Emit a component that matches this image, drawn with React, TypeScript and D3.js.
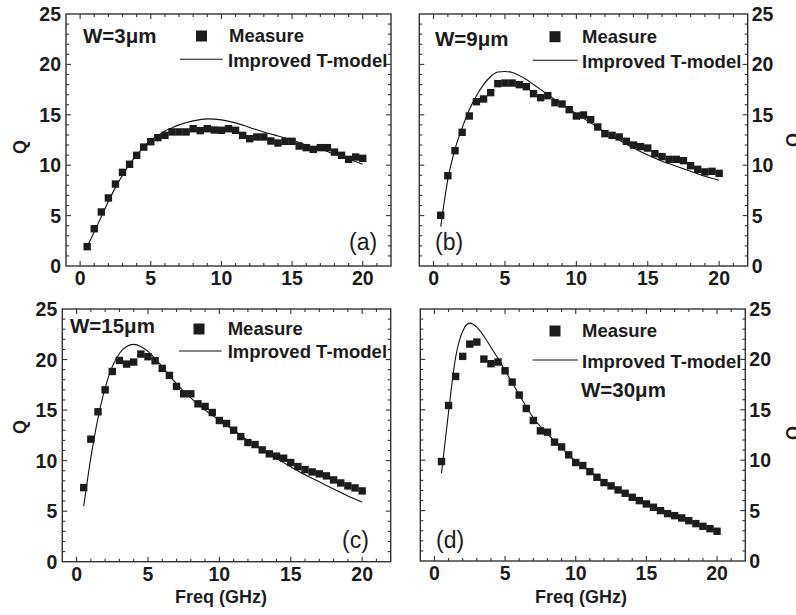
import React from "react";
import * as d3 from "d3";

// ---------- DATA ----------
const freq = [0.5, 1, 1.5, 2, 2.5, 3, 3.5, 4, 4.5, 5, 5.5, 6, 6.5, 7, 7.5, 8, 8.5, 9, 9.5, 10,
  10.5, 11, 11.5, 12, 12.5, 13, 13.5, 14, 14.5, 15, 15.5, 16, 16.5, 17, 17.5, 18, 18.5, 19, 19.5, 20];

const measureA = [1.92, 3.7, 5.36, 6.75, 8.13, 9.29, 10.09, 10.98, 11.8, 12.33, 12.73, 12.96, 13.3, 13.3, 13.3, 13.62, 13.43, 13.62, 13.49, 13.46,
  13.62, 13.46, 12.96, 12.63, 12.8, 12.8, 12.4, 12.2, 12.37, 12.37, 11.9, 11.74, 11.57, 11.74, 11.74, 11.3, 10.98, 10.58, 10.81, 10.68];
const measureB = [5.03, 8.96, 11.44, 13.26, 14.88, 16.3, 16.57, 17.2, 18.09, 18.15, 18.15, 17.99, 17.79, 17.1, 16.7, 16.9, 16.2, 16.07, 15.51, 14.88,
  14.98, 14.52, 13.79, 13.13, 12.96, 12.8, 12.37, 12.0, 11.84, 11.7, 11.14, 10.85, 10.58, 10.58, 10.45, 9.95, 9.59, 9.33, 9.39, 9.19];
const measureC = [7.33, 12.12, 14.83, 17.0, 18.82, 19.91, 19.55, 19.75, 20.54, 20.28, 19.88, 19.12, 18.43, 17.34, 16.61, 16.61, 15.62, 15.36, 14.76, 13.97,
  13.67, 13.01, 12.38, 11.79, 11.59, 11.06, 10.67, 10.44, 10.24, 9.81, 9.41, 9.11, 8.88, 8.69, 8.49, 8.09, 7.79, 7.5, 7.3, 7.0];
const measureD = [9.87, 15.43, 18.31, 20.3, 21.52, 21.72, 20.03, 19.57, 19.74, 18.87, 17.75, 16.46, 15.13, 13.94, 12.91, 12.78, 11.79, 11.32, 10.53, 9.77,
  9.47, 8.87, 8.31, 7.78, 7.45, 7.05, 6.72, 6.32, 5.99, 5.66, 5.33, 5.0, 4.7, 4.5, 4.27, 4.0, 3.71, 3.44, 3.21, 2.95];

const modelFreq = [0.5, 1, 1.5, 2, 2.5, 3, 3.5, 4, 4.5, 5, 5.5, 6, 6.5, 7, 8, 9, 10, 11, 12, 13, 14, 15, 16, 17, 18, 19, 20];
const modelA = [1.9, 3.4, 4.9, 6.4, 7.8, 9.0, 10.1, 11.0, 11.8, 12.5, 12.95, 13.4, 13.7, 14.0, 14.4, 14.6, 14.5, 14.2, 13.75, 13.3, 12.9, 12.5, 12.0, 11.6, 11.1, 10.6, 10.1];
const modelB = [3.9, 8.6, 11.6, 13.7, 15.5, 16.9, 18.0, 18.8, 19.25, 19.3, 19.2, 18.9, 18.5, 18.0, 17.0, 16.0, 15.1, 14.2, 13.3, 12.5, 11.7, 11.0, 10.4, 9.9, 9.4, 8.9, 8.5];
const modelC = [5.5, 10.3, 14.2, 17.2, 19.3, 20.6, 21.3, 21.5, 21.3, 20.8, 20.1, 19.3, 18.4, 17.6, 16.2, 15.0, 14.0, 13.0, 12.0, 11.1, 10.2, 9.4, 8.6, 7.9, 7.2, 6.5, 5.9];
const modelD = [8.7, 14.8, 20.2, 22.8, 23.6, 23.2, 22.3, 21.2, 20.1, 18.9, 17.7, 16.5, 15.3, 14.2, 12.6, 11.2, 9.9, 8.9, 7.9, 7.1, 6.3, 5.6, 5.0, 4.5, 4.0, 3.5, 3.0];

const widths = ["W=3\u03bcm", "W=9\u03bcm", "W=15\u03bcm", "W=30\u03bcm"];
const tags = ["(a)", "(b)", "(c)", "(d)"];
const legendLabels = ["Measure", "Improved T-model"];
const xTickLabels = [0, 5, 10, 15, 20];
const yTickLabels = [0, 5, 10, 15, 20, 25];
const xTitle = "Freq (GHz)";
const yTitle = "Q";

// ---------- LAYOUT ----------
const FONT = "'Liberation Sans', Arial, Helvetica, sans-serif";
const INK = "#1c1c1c";

type PanelLayout = {
  l: number; r: number; t: number; b: number;
  side: "left" | "right";
  qx: number; qy: number;
  w: [number, number];
  tag: [number, number];
  sq: [number, number]; mt: [number, number]; ln: [number, number, number]; it: [number, number];
  xTitle?: [number, number];
};

const layouts: PanelLayout[] = [
  { l: 66, r: 391, t: 14, b: 266, side: "left", qx: 25.5, qy: 147, w: [83, 43.3], tag: [349, 250],
    sq: [135.5, 22], mt: [163, 27.7], ln: [114, 156.7, 45.3], it: [162, 52.7] },
  { l: 419.3, r: 747.7, t: 14, b: 266, side: "right", qx: 799, qy: 140, w: [435, 46], tag: [435, 250],
    sq: [135.7, 22.7], mt: [162.7, 29.3], ln: [113.4, 158.4, 46.3], it: [162.7, 54.3] },
  { l: 62.3, r: 390.7, t: 309, b: 561.7, side: "left", qx: 25.5, qy: 427, w: [70, 333.3], tag: [342, 548],
    sq: [136.7, 20], mt: [165.4, 26], ln: [116.7, 159.4, 42], it: [165.4, 49], xTitle: [221, 603] },
  { l: 420.3, r: 745.3, t: 309, b: 561, side: "right", qx: 799, qy: 433, w: [581, 396.7], tag: [436, 548],
    sq: [134.7, 22], mt: [161.7, 27.7], ln: [112.4, 157.4, 51], it: [161.7, 59.3], xTitle: [581, 603] },
];

const measures = [measureA, measureB, measureC, measureD];
const models = [modelA, modelB, modelC, modelD];

function Panel({ idx }: { idx: number }) {
  const L = layouts[idx];
  const x = d3.scaleLinear().domain([-1, 22]).range([L.l, L.r]);
  const y = d3.scaleLinear().domain([0, 25]).range([L.b, L.t]);
  const line = d3.line<[number, number]>()
    .x((d) => x(d[0]))
    .y((d) => y(d[1]))
    .curve(d3.curveMonotoneX);
  const modelPts: [number, number][] = modelFreq.map((f, i) => [f, models[idx][i]]);
  const meas = measures[idx];
  const xt = d3.range(0, 22, 1);
  const yt = d3.range(1, 25, 1);
  const MAJ = 5, MIN = 3;
  const frameColor = "#333";
  const sq = 7.4;
  const legSq = 11;

  return (
    <g>
      <path d={line(modelPts) || ""} fill="none" stroke="#111" strokeWidth={1.1} />
      {meas.map((v, i) => (
        <rect key={i} x={x(freq[i]) - sq / 2} y={y(v) - sq / 2} width={sq} height={sq} fill={INK} />
      ))}
      {xt.map((t) => {
        const len = t % 5 === 0 ? MAJ : MIN;
        return (
          <g key={"xt" + t}>
            <line x1={x(t)} x2={x(t)} y1={L.b} y2={L.b - len} stroke={frameColor} strokeWidth={1.1} />
            <line x1={x(t)} x2={x(t)} y1={L.t} y2={L.t + len} stroke={frameColor} strokeWidth={1.1} />
          </g>
        );
      })}
      {yt.map((t) => {
        const len = t % 5 === 0 ? MAJ : MIN;
        return (
          <g key={"yt" + t}>
            <line x1={L.l} x2={L.l + len} y1={y(t)} y2={y(t)} stroke={frameColor} strokeWidth={1.1} />
            <line x1={L.r} x2={L.r - len} y1={y(t)} y2={y(t)} stroke={frameColor} strokeWidth={1.1} />
          </g>
        );
      })}
      <rect x={L.l} y={L.t} width={L.r - L.l} height={L.b - L.t} fill="none" stroke={frameColor} strokeWidth={1.4} />
      {xTickLabels.map((t) => (
        <text key={"xl" + t} x={x(t)} y={L.b + 19} textAnchor="middle" fontSize={19.5} fontWeight="bold"
          fontFamily={FONT} fill={INK}>{t}</text>
      ))}
      {yTickLabels.map((t) => (
        <text key={"yl" + t} x={L.side === "left" ? L.l - 5 : L.r + 4} y={y(t)} dy="0.36em"
          textAnchor={L.side === "left" ? "end" : "start"} fontSize={19.5} fontWeight="bold"
          fontFamily={FONT} fill={INK}>{t}</text>
      ))}
      <text transform={`translate(${L.qx},${L.qy}) rotate(-90)`} textAnchor="middle" fontSize={18}
        fontWeight="bold" fontFamily={FONT} fill={INK}>{yTitle}</text>
      {L.xTitle && (
        <text x={L.xTitle[0]} y={L.xTitle[1]} textAnchor="middle" fontSize={18} fontWeight="bold"
          fontFamily={FONT} fill={INK}>{xTitle}</text>
      )}
      <text x={L.w[0]} y={L.w[1]} fontSize={20.5} fontWeight="bold" fontFamily={FONT} fill={INK}>{widths[idx]}</text>
      <text x={L.tag[0]} y={L.tag[1]} fontSize={23} fontFamily={FONT} fill={INK}>{tags[idx]}</text>
      <rect x={L.l + L.sq[0] - legSq / 2} y={L.t + L.sq[1] - legSq / 2} width={legSq} height={legSq} fill={INK} />
      <text x={L.l + L.mt[0]} y={L.t + L.mt[1]} fontSize={18.5} fontWeight="bold" fontFamily={FONT} fill={INK}>{legendLabels[0]}</text>
      <line x1={L.l + L.ln[0]} x2={L.l + L.ln[1]} y1={L.t + L.ln[2]} y2={L.t + L.ln[2]} stroke="#111" strokeWidth={1.1} />
      <text x={L.l + L.it[0]} y={L.t + L.it[1]} fontSize={18.5} fontWeight="bold" fontFamily={FONT} fill={INK}>{legendLabels[1]}</text>
    </g>
  );
}

export default function App() {
  return (
    <svg width={796} height={615} viewBox="0 0 796 615"
      style={{ position: "absolute", left: 0, top: 0, display: "block", background: "#fff" }}>
      <rect x={0} y={0} width={796} height={615} fill="#fff" />
      {[0, 1, 2, 3].map((i) => <Panel key={i} idx={i} />)}
    </svg>
  );
}
